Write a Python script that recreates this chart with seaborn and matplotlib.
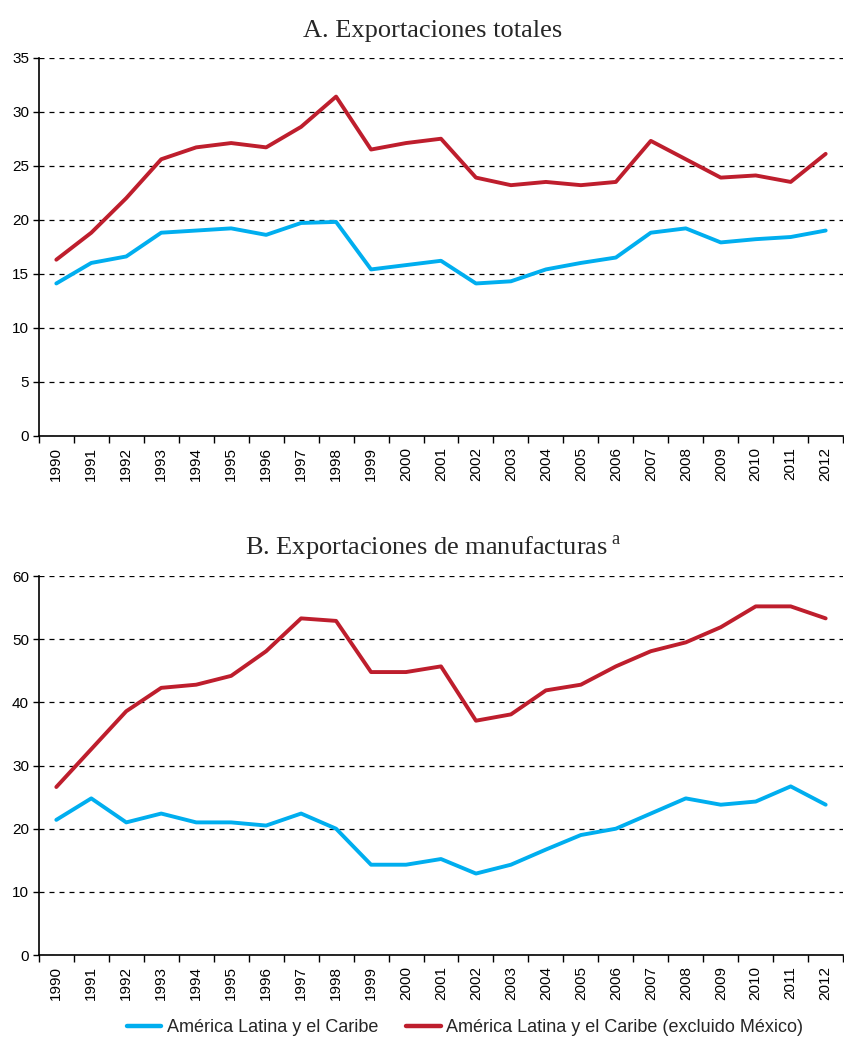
import numpy as np
import pandas as pd
import matplotlib
matplotlib.use("Agg")
import matplotlib.pyplot as plt
import seaborn as sns

# Series names and colours
SERIES = ["América Latina y el Caribe", "América Latina y el Caribe (excluido México)"]
COLORS = ["#00aeef", "#be1e2d"]

years = list(range(1990, 2013))

# Panel A: total exports
total_alc = [14.1, 16.0, 16.6, 18.8, 19.0, 19.2, 18.6, 19.7, 19.8, 15.4, 15.8, 16.2,
             14.1, 14.3, 15.4, 16.0, 16.5, 18.8, 19.2, 17.9, 18.2, 18.4, 19.0]
total_alc_sin_mex = [16.3, 18.8, 22.0, 25.6, 26.7, 27.1, 26.7, 28.6, 31.4, 26.5, 27.1, 27.5,
                     23.9, 23.2, 23.5, 23.2, 23.5, 27.3, 25.6, 23.9, 24.1, 23.5, 26.1]

# Panel B: manufacturing exports
manuf_alc = [21.4, 24.8, 21.0, 22.4, 21.0, 21.0, 20.5, 22.4, 20.0, 14.3, 14.3, 15.2,
             12.9, 14.3, 16.7, 19.0, 20.0, 22.4, 24.8, 23.8, 24.3, 26.7, 23.8]
manuf_alc_sin_mex = [26.6, 32.6, 38.6, 42.3, 42.8, 44.2, 48.1, 53.3, 52.9, 44.8, 44.8, 45.7,
                     37.1, 38.1, 41.9, 42.8, 45.7, 48.1, 49.5, 51.9, 55.2, 55.2, 53.3]

titles = ["A. Exportaciones totales", "B. Exportaciones de manufacturas$\\,^{\\mathrm{a}}$"]
ylims = [35, 60]
ysteps = [5, 10]


def long_frame(a, b):
    return pd.DataFrame({
        "year": years * 2,
        "value": a + b,
        "serie": [SERIES[0]] * len(years) + [SERIES[1]] * len(years),
    })


sns.set_theme(style="white")
plt.rcParams["font.family"] = ["Liberation Sans", "DejaVu Sans"]
plt.rcParams["mathtext.fontset"] = "custom"
plt.rcParams["mathtext.rm"] = "Liberation Serif"

fig = plt.figure(figsize=(8.44, 10.4), dpi=100)
ax_a = fig.add_axes([0.046, 0.581, 0.953, 0.3635])
ax_b = fig.add_axes([0.046, 0.0817, 0.953, 0.3644])

frames = [long_frame(total_alc, total_alc_sin_mex), long_frame(manuf_alc, manuf_alc_sin_mex)]

for ax, df, title, ymax, step in zip([ax_a, ax_b], frames, titles, ylims, ysteps):
    sns.lineplot(data=df, x="year", y="value", hue="serie", hue_order=SERIES,
                 palette=COLORS, linewidth=2.8, legend=False, ax=ax)
    ax.set_xlim(years[0] - 0.5, years[-1] + 0.5)
    ax.set_ylim(0, ymax)
    ax.set_yticks(np.arange(0, ymax + 1, step))
    ax.set_xticks(years)
    ax.set_xticklabels([str(y) for y in years], rotation=90)
    ax.set_xticks(np.arange(years[0] - 0.5, years[-1] + 1, 1), minor=True)
    ax.tick_params(axis="x", which="major", length=0, pad=8, labelsize=11, colors="black")
    ax.tick_params(axis="x", which="minor", length=5, width=1, color="black", direction="out", bottom=True)
    ax.tick_params(axis="y", length=4, width=1, color="black", direction="out", left=True,
                   labelsize=11, labelcolor="black", pad=3)
    ax.yaxis.grid(True, linestyle=(0, (4, 4)), color="black", linewidth=0.9)
    ax.set_axisbelow(True)
    for s in ["top", "right"]:
        ax.spines[s].set_visible(False)
    for s in ["left", "bottom"]:
        ax.spines[s].set_color("black")
        ax.spines[s].set_linewidth(1.2)
    ax.set_xlabel("")
    ax.set_ylabel("")
    ax.set_title(title, family="Liberation Serif", fontsize=19, pad=15, x=0.49)

# Legend at the bottom
handles = [plt.Line2D([], [], color=c, linewidth=3.2) for c in COLORS]
fig.legend(handles, SERIES, loc="center", bbox_to_anchor=(0.551, 0.012), ncol=2,
           frameon=False, fontsize=13, handlelength=1.9, handletextpad=0.33, columnspacing=1.55)

fig.savefig("out.png", dpi=100)
